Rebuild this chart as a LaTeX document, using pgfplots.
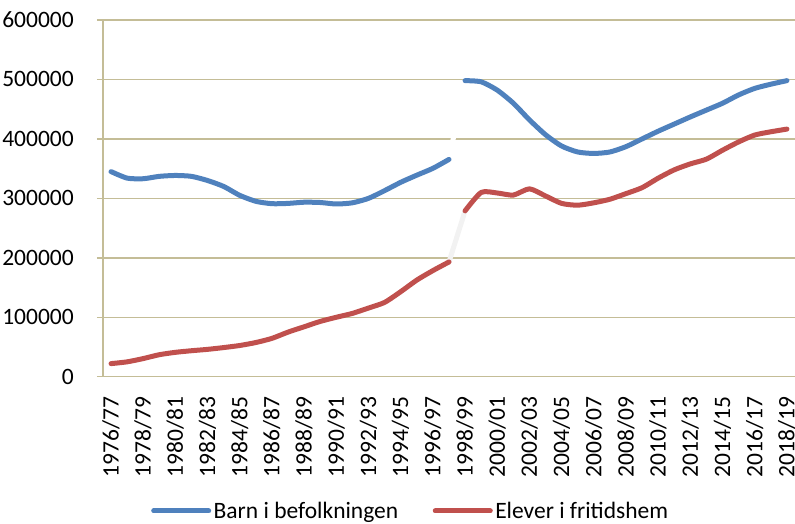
\documentclass[border=0pt]{standalone}
\usepackage{pgfplots}
\pgfplotsset{compat=1.18}
\usepackage{fontspec}
\setmainfont{Carlito}
\definecolor{tanline}{HTML}{C4BD97}
\definecolor{xlblue}{HTML}{4F81BD}
\definecolor{xlred}{HTML}{C0504D}
\definecolor{lightgap}{HTML}{F2F2F2}
\begin{document}
\begin{tikzpicture}
\useasboundingbox (-103bp,-147.3bp) rectangle (692bp,376.7bp);
\begin{axis}[
  scale only axis,
  width=692bp, height=356.7bp,
  xmin=-0.5, xmax=42.5,
  ymin=0, ymax=600000,
  axis lines*=left,
  axis line style={draw=tanline, line width=1.5bp},
  ymajorgrids,
  grid style={draw=tanline, line width=1.5bp},
  ytick={0,100000,200000,300000,400000,500000,600000},
  scaled y ticks=false,
  yticklabel style={font=\fontsize{23.5bp}{24bp}\selectfont, inner sep=0pt, anchor=east,
    /pgf/number format/fixed, /pgf/number format/1000 sep={}, /pgf/number format/assume math mode=true},
  yticklabel shift=23bp,
  tick align=outside,
  major tick length=6bp,
  ytick style={draw=tanline, line width=1.5bp},
  xtick={0,2,...,42},
  xticklabels={1976/77,1978/79,1980/81,1982/83,1984/85,1986/87,1988/89,1990/91,1992/93,1994/95,1996/97,1998/99,2000/01,2002/03,2004/05,2006/07,2008/09,2010/11,2012/13,2014/15,2016/17,2018/19},
  xtick style={draw=none},
  xticklabel style={font=\fontsize{23.5bp}{24bp}\selectfont, rotate=90, anchor=east, inner sep=0pt,
    text height=15bp, text depth=0bp},
  xticklabel shift=14bp,
  legend columns=2,
  legend style={draw=none, fill=none, at={(0.445,-0.3765)}, anchor=center,
    font=\fontsize{23.5bp}{24bp}\selectfont,
    /tikz/every even column/.append style={column sep=32bp},
    nodes={inner sep=2.5bp}},
  legend image code/.code={\draw[#1, line width=5bp] (0bp,0bp) -- (55bp,0bp);},
  clip=false,
]
% connectors
\addplot[draw=white, line width=5bp, forget plot] coordinates {(21,365500) (22,498000)};
\addplot[draw=lightgap, line width=5bp, forget plot] coordinates {(21,193000) (22,279000)};
% Barn i befolkningen
\addplot[draw=xlblue, line width=5bp, smooth, tension=0.4, line cap=round, line join=round] coordinates {
(0,345000) (1,334000) (2,333000) (3,337000) (4,338500) (5,337000) (6,330000) (7,320000)
(8,305000) (9,295000) (10,291000) (11,291500) (12,293500) (13,293000) (14,290500)
(15,292500) (16,300000) (17,313000) (18,327000) (19,339000) (20,350500) (21,365500)};
\addlegendentry{Barn i befolkningen}
\addplot[draw=xlblue, line width=5bp, smooth, tension=0.4, line cap=round, line join=round, forget plot] coordinates {
(22,498000) (23,496000) (24,482000) (25,460000) (26,432000) (27,407000) (28,388000)
(29,378000) (30,375500) (31,378000) (32,387000) (33,400000) (34,413000) (35,425000)
(36,437000) (37,448500) (38,460000) (39,474000) (40,485000) (41,492000) (42,498000)};
% Elever i fritidshem
\addplot[draw=xlred, line width=5bp, smooth, tension=0.4, line cap=round, line join=round] coordinates {
(0,22000) (1,25000) (2,30500) (3,37000) (4,41000) (5,43700) (6,46000) (7,49000)
(8,52500) (9,57500) (10,64500) (11,75000) (12,84000) (13,93000) (14,100000)
(15,106500) (16,115500) (17,125000) (18,143000) (19,162500) (20,178500) (21,193000)};
\addlegendentry{Elever i fritidshem}
\addplot[draw=xlred, line width=5bp, smooth, tension=0.4, line cap=round, line join=round, forget plot] coordinates {
(22,279000) (23,310000) (24,309000) (25,305500) (26,316000) (27,304000) (28,291500)
(29,288500) (30,292500) (31,298500) (32,308000) (33,318000) (34,334000) (35,348000)
(36,358000) (37,366000) (38,381000) (39,395000) (40,406500) (41,412000) (42,416500)};
\end{axis}
\end{tikzpicture}
\end{document}
